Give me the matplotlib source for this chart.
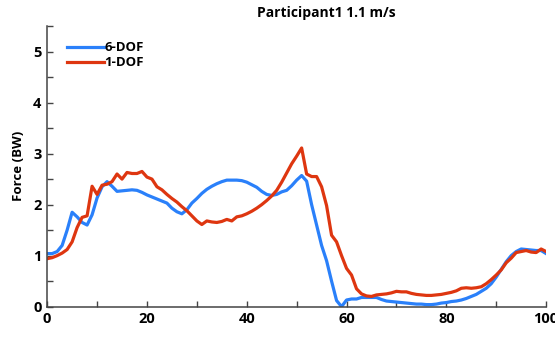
import matplotlib.pyplot as plt
from matplotlib.ticker import MultipleLocator

# percent of gait cycle
pct = list(range(0, 101))

# 6-DOF vertical force (BW)
force_6dof = [1.04, 1.04, 1.08, 1.20, 1.50, 1.85, 1.76, 1.65, 1.60, 1.80,
              2.13, 2.35, 2.45, 2.36, 2.26, 2.27, 2.28, 2.29, 2.28, 2.24,
              2.19, 2.15, 2.11, 2.07, 2.03, 1.93, 1.86, 1.82, 1.90, 2.03,
              2.12, 2.22, 2.30, 2.36, 2.41, 2.45, 2.48, 2.48, 2.48, 2.47,
              2.44, 2.39, 2.34, 2.26, 2.20, 2.18, 2.20, 2.25, 2.28, 2.37,
              2.48, 2.57, 2.46, 2.00, 1.60, 1.20, 0.90, 0.50, 0.12, 0.00,
              0.13, 0.15, 0.15, 0.18, 0.18, 0.18, 0.18, 0.14, 0.11, 0.10,
              0.09, 0.08, 0.07, 0.06, 0.05, 0.05, 0.04, 0.04, 0.05, 0.07,
              0.08, 0.10, 0.11, 0.13, 0.16, 0.20, 0.24, 0.30, 0.36, 0.45,
              0.58, 0.73, 0.88, 1.00, 1.08, 1.13, 1.12, 1.11, 1.10, 1.10,
              1.04]

# 1-DOF vertical force (BW)
force_1dof = [0.94, 0.96, 1.00, 1.05, 1.12, 1.27, 1.55, 1.75, 1.78, 2.36,
              2.20, 2.38, 2.40, 2.45, 2.60, 2.50, 2.63, 2.61, 2.61, 2.65,
              2.54, 2.50, 2.35, 2.29, 2.20, 2.12, 2.05, 1.96, 1.88, 1.78,
              1.68, 1.61, 1.68, 1.66, 1.65, 1.67, 1.71, 1.68, 1.76, 1.78,
              1.82, 1.87, 1.93, 2.00, 2.08, 2.17, 2.28, 2.44, 2.62, 2.80,
              2.95, 3.11, 2.60, 2.55, 2.55, 2.35, 1.98, 1.40, 1.27, 1.00,
              0.75, 0.62, 0.35, 0.25, 0.21, 0.20, 0.23, 0.24, 0.25, 0.27,
              0.30, 0.29, 0.29, 0.26, 0.24, 0.23, 0.22, 0.22, 0.23, 0.24,
              0.26, 0.28, 0.31, 0.36, 0.37, 0.36, 0.37, 0.39, 0.45, 0.53,
              0.62, 0.72, 0.86, 0.95, 1.06, 1.08, 1.10, 1.07, 1.06, 1.13,
              1.08]

plt.rcParams['font.family'] = ['Open Sans', 'DejaVu Sans']
plt.rcParams['font.weight'] = 'bold'

fig = plt.figure(figsize=(5.55, 3.43), dpi=100)
ax = fig.add_axes([0.085, 0.106, 0.899, 0.818])

ax.plot(pct, force_6dof, color='#2a80fa', lw=2.3, label='6-DOF')
ax.plot(pct, force_1dof, color='#de3610', lw=2.3, label='1-DOF')

ax.set_xlim(0, 100)
ax.set_ylim(0, 5.5)
ax.xaxis.set_major_locator(MultipleLocator(20))
ax.xaxis.set_minor_locator(MultipleLocator(10))
ax.yaxis.set_major_locator(MultipleLocator(1))
ax.yaxis.set_minor_locator(MultipleLocator(0.5))
ax.tick_params(which='both', direction='in', length=4, width=1, color='#444444')
ax.tick_params(which='major', labelsize=10.5, pad=4)

for side in ['top', 'right']:
    ax.spines[side].set_visible(False)
for side in ['left', 'bottom']:
    ax.spines[side].set_color('#444444')
    ax.spines[side].set_linewidth(1.1)

ax.set_ylabel('Force (BW)', fontsize=9.5, fontweight='bold', labelpad=6)

fig.text(0.588, 0.962, 'Participant1 1.1 m/s', ha='center', va='center',
         fontsize=10, fontweight='bold')

ax.legend(loc='upper left', bbox_to_anchor=(0.03, 0.965), frameon=False,
          fontsize=9.5, handlelength=2.75, handletextpad=0.05, labelspacing=0.15,
          borderaxespad=0)

fig.savefig('out.png', dpi=100)
